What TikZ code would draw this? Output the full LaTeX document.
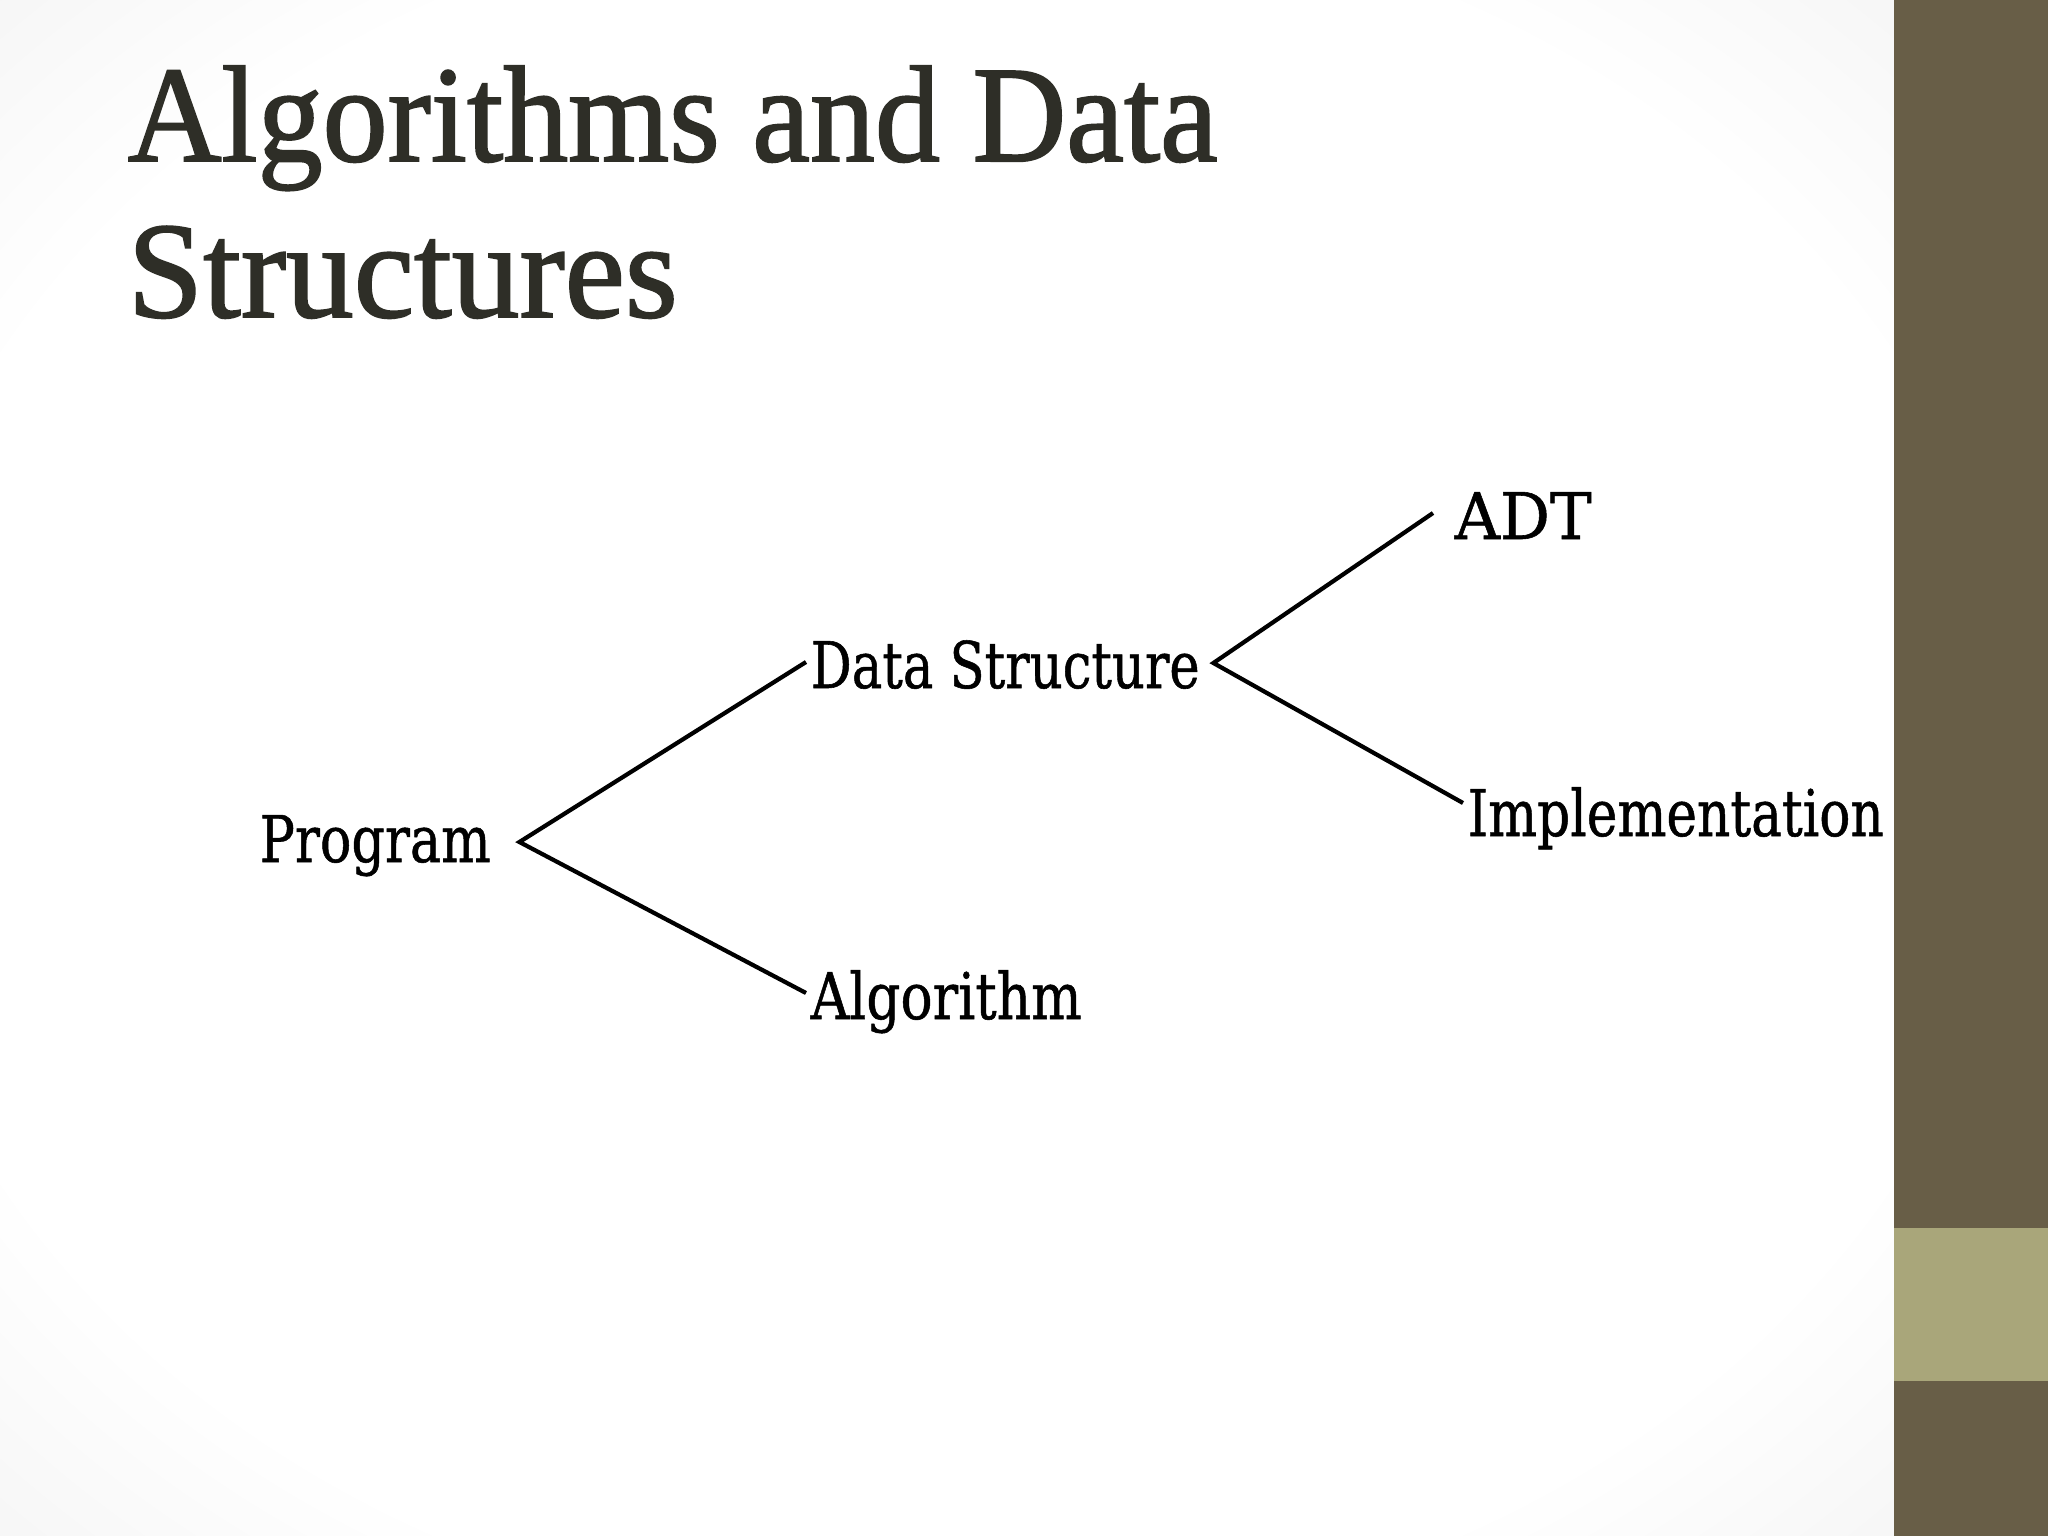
\documentclass[tikz,border=0pt]{standalone}
\usepackage{fontspec}
\setmainfont{Liberation Serif}
\newfontfamily\titlefont[FakeBold=1.4]{Liberation Serif}
\newfontfamily\diagfont[FakeBold=0.9]{DejaVu Serif}
\usepackage{graphicx}
\newlength\pxu \setlength\pxu{0.01cm}
\definecolor{bardark}{HTML}{685E47}
\definecolor{barlight}{HTML}{A9A67A}
\definecolor{titlecol}{HTML}{2E2E27}
\pgfdeclareradialshading{vign}{\pgfpoint{0bp}{0bp}}{color(0bp)=(white); color(28bp)=(white); color(50bp)=(black!10); color(72bp)=(black!20)}
\tikzset{
  ttl/.style={anchor=base west, inner sep=0pt, text=titlecol, font=\titlefont\fontsize{39pt}{39pt}\selectfont},
  lab/.style={anchor=base west, inner sep=0pt, text height=48\pxu, text depth=0pt, text=black, font=\diagfont\fontsize{18.3pt}{20pt}\selectfont},
  conn/.style={draw=black, line width=1.2pt}
}
\begin{document}
\begin{tikzpicture}[x=\pxu,y=-\pxu]
\useasboundingbox (0,0) rectangle (2048,1536);
% background
\fill[white] (0,0) rectangle (1894,1536);
\shade[shading=vign] (0,0) rectangle (1894,1536);
% right bar
\fill[bardark] (1894,0) rectangle (2048,1536);
\fill[barlight] (1894,1228) rectangle (2048,1381);
% title
\node[ttl] (t1) at (127,161) {\resizebox{1090\pxu}{\height}{Algorithms and Data}};
\node[ttl] (t2) at (127,317) {\resizebox{550\pxu}{\height}{Structures}};
% diagram labels
\node[lab] (prog) at (259,862) {\resizebox{231\pxu}{\height}{Program}};
\node[lab] (ds) at (810,688) {\resizebox{389\pxu}{\height}{Data Structure}};
\node[lab] (alg) at (810,1019) {\resizebox{271\pxu}{\height}{Algorithm}};
\node[lab] (adt) at (1454,539) {\resizebox{137\pxu}{\height}{ADT}};
\node[lab] (impl) at (1467,836) {\resizebox{416\pxu}{\height}{Implementation}};
% connectors
\draw[conn] ([xshift=-4\pxu,yshift=2\pxu]ds.west) -- ([xshift=28\pxu,yshift=-4\pxu]prog.east) -- ([xshift=-4\pxu,yshift=2\pxu]alg.west);
\draw[conn] ([xshift=-21\pxu,yshift=2\pxu]adt.west) -- ([xshift=13\pxu,yshift=1\pxu]ds.east) -- ([xshift=-4\pxu,yshift=9\pxu]impl.west);
\end{tikzpicture}
\end{document}
